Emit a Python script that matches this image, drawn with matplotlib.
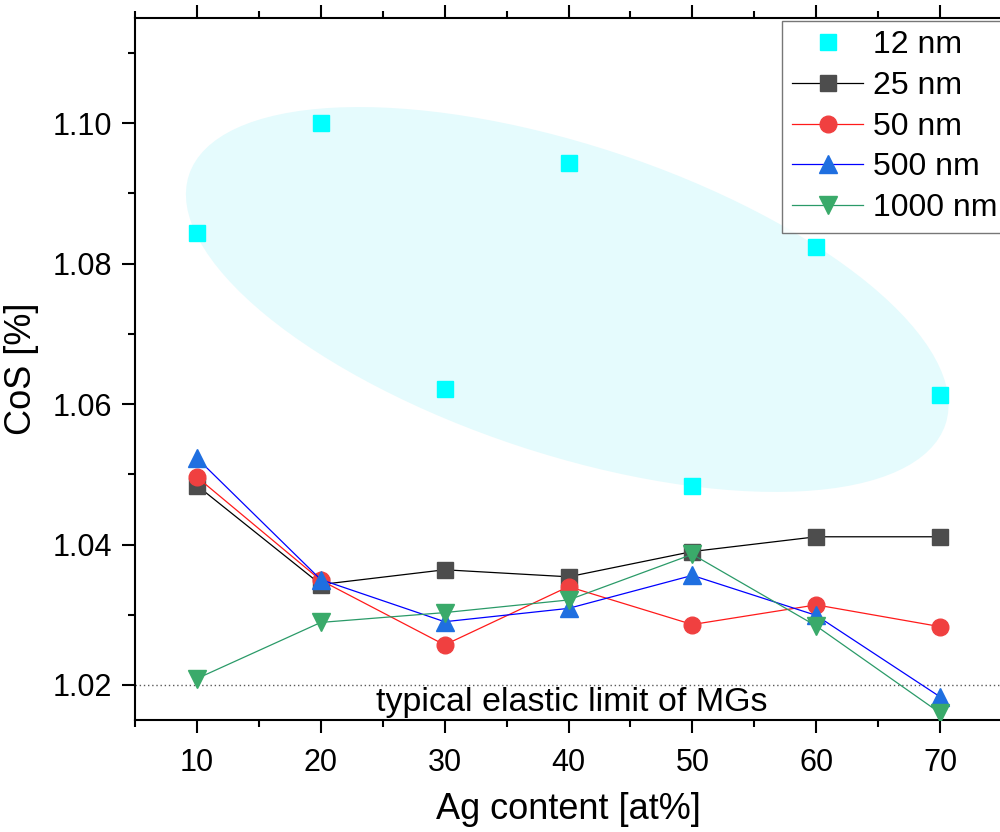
import numpy as np
import matplotlib
matplotlib.use("Agg")
from matplotlib import pyplot as plt
from matplotlib.patches import Ellipse
from matplotlib.transforms import Affine2D
from matplotlib.ticker import MultipleLocator

plt.rcParams['font.family'] = ['Liberation Sans', 'DejaVu Sans']

ag = [10, 20, 30, 40, 50, 60, 70]
cos_12 = [1.0843, 1.1000, 1.0621, 1.0943, 1.0483, 1.0824, 1.0613]
cos_25 = [1.0484, 1.0343, 1.0364, 1.0354, 1.0390, 1.0411, 1.0411]
cos_50 = [1.0496, 1.0349, 1.0257, 1.0340, 1.0286, 1.0314, 1.0283]
cos_500 = [1.0523, 1.0350, 1.0290, 1.0309, 1.0356, 1.0299, 1.0183]
cos_1000 = [1.0209, 1.0289, 1.0303, 1.0321, 1.0386, 1.0284, 1.0160]
elastic_limit = 1.02

fig = plt.figure(figsize=(10, 8.32), dpi=100)
ax = fig.add_axes([0.135, 0.1346, 0.867, 0.8438])
ax.set_xlim(5, 75)
ax.set_ylim(1.015, 1.115)

# shaded ellipse round the 12 nm points, drawn with y stretched so it is a true ellipse on screen
k = 566.0
ell = Ellipse((39.9, 1.0749 * k), width=64.3, height=24.9, angle=-18.2,
              facecolor='#e5fbfd', edgecolor='none', zorder=0,
              transform=Affine2D().scale(1, 1 / k) + ax.transData)
ax.add_patch(ell)

ax.axhline(elastic_limit, color='0.35', lw=1, ls=(0, (1, 2)), zorder=1)
ax.text(40.3, 1.0175, "typical elastic limit of MGs", fontsize=24.5, ha='center', va='center')

ax.plot(ag, cos_12, ls='none', marker='s', ms=11, color='#00ffff', mec='#00ffff', label='12 nm', zorder=3)
ax.plot(ag, cos_25, color='black', lw=0.9, marker='s', ms=11, mfc='#4d4d4d', mec='#4d4d4d', label='25 nm', zorder=3)
ax.plot(ag, cos_50, color='#ff1a1a', lw=0.9, marker='o', ms=12, mfc='#f04040', mec='#f04040', label='50 nm', zorder=3)
ax.plot(ag, cos_500, color='#0000ff', lw=0.9, marker='^', ms=13, mfc='#1f6fe0', mec='#1f6fe0', label='500 nm', zorder=3)
ax.plot(ag, cos_1000, color='#2a9a68', lw=0.9, marker='v', ms=13, mfc='#3aaa6a', mec='#3aaa6a', label='1000 nm', zorder=3)

ax.xaxis.set_major_locator(MultipleLocator(10))
ax.xaxis.set_minor_locator(MultipleLocator(5))
ax.yaxis.set_major_locator(MultipleLocator(0.02))
ax.yaxis.set_minor_locator(MultipleLocator(0.01))
ax.yaxis.set_major_formatter(matplotlib.ticker.FormatStrFormatter('%.2f'))
ax.tick_params(which='both', direction='out', width=1.5, top=True, labelsize=22)
ax.tick_params(which='major', length=9.5)
ax.tick_params(which='minor', length=5)
ax.tick_params(axis='x', which='both', pad=11)
ax.tick_params(axis='y', which='both', pad=7)
for s in ['left', 'bottom', 'top']:
    ax.spines[s].set_linewidth(1.5)
ax.spines['right'].set_visible(False)

ax.set_xlabel("Ag content [at%]", fontsize=26, labelpad=10)
ax.set_ylabel("CoS [%]", fontsize=26, labelpad=10)

leg = ax.legend(loc='upper left', bbox_to_anchor=(0.782, 0.975), bbox_transform=fig.transFigure,
                fontsize=23, frameon=True, fancybox=False, handlelength=2.25, handletextpad=0.3,
                labelspacing=0.335, borderpad=0.3, borderaxespad=0)
leg.get_frame().set_edgecolor('#555555')
leg.get_frame().set_linewidth(1)

plt.savefig("out.png", dpi=100)
